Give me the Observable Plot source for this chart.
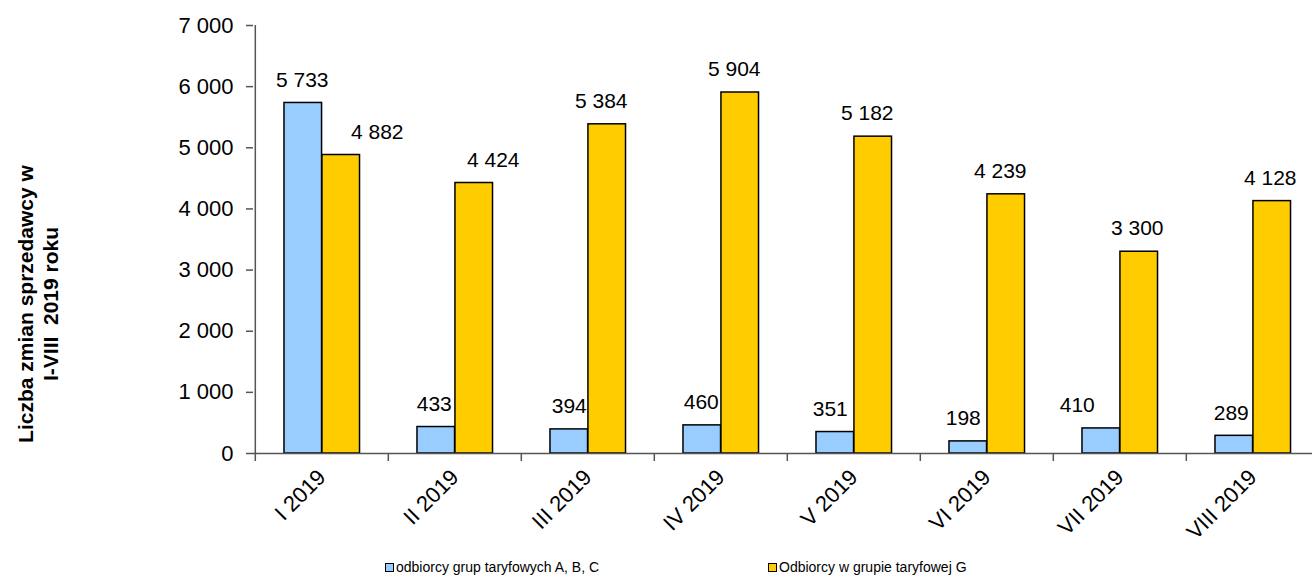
<!DOCTYPE html>
<html><head><meta charset="utf-8">
<script src="https://cdn.jsdelivr.net/npm/d3@7"></script>
<script src="https://cdn.jsdelivr.net/npm/@observablehq/plot@0.6"></script>
<style>
body{margin:0;background:#fff;font-family:"Liberation Sans",Arial,sans-serif;width:1312px;height:578px;overflow:hidden;position:relative;}
#legend{position:relative;height:23px;font-size:14px;color:#000;}
.item{position:absolute;top:4px;display:flex;align-items:center;white-space:nowrap;line-height:16px;}
.sw{width:9px;height:9px;border:1.5px solid #000;margin-right:2px;box-sizing:border-box;}
#ytitle{position:absolute;left:38px;top:304px;transform:translate(-50%,-50%) rotate(-90deg);font-size:21px;font-weight:bold;text-align:center;line-height:25px;white-space:nowrap;color:#000;}
</style>
</head><body>
<div id="chart"></div>
<div id="legend"></div>
<div id="ytitle"></div>
<script>
const months = ["I 2019","II 2019","III 2019","IV 2019","V 2019","VI 2019","VII 2019","VIII 2019"];
const seriesABC = [5733, 433, 394, 460, 351, 198, 410, 289];
const seriesG = [4882, 4424, 5384, 5904, 5182, 4239, 3300, 4128];
const seriesNames = ["odbiorcy grup taryfowych A, B, C", "Odbiorcy w grupie taryfowej G"];
const yTicks = [0,1000,2000,3000,4000,5000,6000,7000];
const yTitleLines = ["Liczba zmian sprzedawcy w", "I-VIII  2019 roku"];
// manual label nudges (px), as moved in the original
const shiftABC = [-1, -2, 0, -1, -5, -5, -24, -3];
const shiftG = [36, 19, -6, -6, -6, -6, -2, -2];

const W = 1312, H = 555, mL = 253, mR = -8, mT = 25, mB = 102;
const bw = (W - mL - mR) / months.length;
const startF = 29/133.5, barF = 38/133.5;
const blueL = startF*bw, blueR = bw - blueL - barF*bw;
const yelL = blueL + barF*bw, yelR = bw - yelL - barF*bw;
const blueDx = blueL + barF*bw/2 - bw/2;
const yelDx = yelL + barF*bw/2 - bw/2;

const fmt = d => d3.format(",")(d).replace(/,/g, " ");
const dataA = months.map((m,i)=>({month:m, value:seriesABC[i], shift: shiftABC[i]}));
const dataG = months.map((m,i)=>({month:m, value:seriesG[i], shift: shiftG[i]}));
const font = "Liberation Sans, Arial, sans-serif";
const axisColor = "#555";

const labelMarks = (data, baseDx) => data.map(d =>
  Plot.text([d], {x: "month", y: "value", text: v => fmt(v.value), dx: baseDx + d.shift, dy: -23, fontSize: 21, fill: "#000"}));

const plot = Plot.plot({
  width: W, height: H,
  marginLeft: mL, marginRight: mR, marginTop: mT, marginBottom: mB,
  style: {fontFamily: font, background: "#fff", color: "#000", overflow: "hidden"},
  x: {type: "band", domain: months, padding: 0, axis: null},
  y: {domain: [0, 7000], axis: null},
  marks: [
    Plot.barY(dataA, {x: "month", y: "value", fill: "#99CCFF", stroke: "#000", strokeWidth: 1.5, insetLeft: blueL, insetRight: blueR}),
    Plot.barY(dataG, {x: "month", y: "value", fill: "#FFCC00", stroke: "#000", strokeWidth: 1.5, insetLeft: yelL, insetRight: yelR}),
    Plot.ruleY([0], {stroke: axisColor, strokeWidth: 1.5}),
    Plot.ruleX([months[0]], {x: d => d, y1: 0, y2: 7000, dx: -bw/2, stroke: axisColor, strokeWidth: 1.5}),
    Plot.axisY({ticks: yTicks, tickSize: 7, tickPadding: 13, tickFormat: fmt, fontSize: 22, stroke: axisColor, strokeWidth: 1.5, color: "#000", label: null}),
    Plot.axisX({tickSize: 8, tickFormat: () => "", dx: -bw/2, stroke: axisColor, strokeWidth: 1.5, label: null}),
    Plot.axisX({tickSize: 0, tickPadding: 20, tickRotate: -45, fontSize: 22, label: null, color: "#000"}),
    ...labelMarks(dataA, blueDx),
    ...labelMarks(dataG, yelDx)
  ]
});
document.getElementById("chart").appendChild(plot);

document.getElementById("ytitle").innerHTML = yTitleLines.join("<br>").replace(/  /g, "&nbsp; ");

const legend = document.getElementById("legend");
const lx = [385, 768];
const lc = ["#99CCFF", "#FFCC00"];
seriesNames.forEach((n,i)=>{
  const it = document.createElement("div");
  it.className = "item";
  it.style.left = lx[i] + "px";
  it.innerHTML = `<span class="sw" style="background:${lc[i]}"></span><span>${n}</span>`;
  legend.appendChild(it);
});
</script>
</body></html>
